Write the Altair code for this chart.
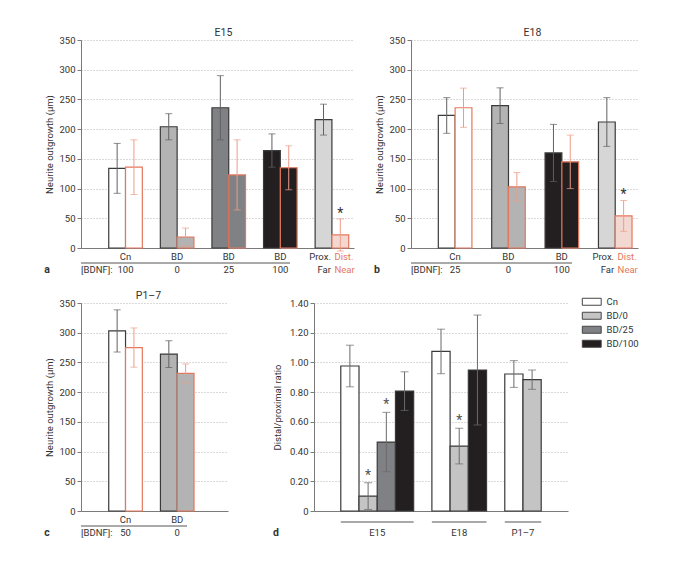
import altair as alt
import pandas as pd

# ---------------- data ----------------
# Panel a: E15
a_groups = ["Cn", "BD0", "BD25", "BD100", "ProxDist"]
a_row1 = ["Cn", "BD", "BD", "BD"]
a_row2 = ["100", "0", "25", "100"]
a_black_mean = [134, 204, 236, 164, 216]
a_black_err = [42, 22, 54, 28, 26]
a_red_mean = [136, 18.5, 123, 135, 22]
a_red_err = [46, 15, 59, 37, 27]

# Panel b: E18
b_groups = ["Cn", "BD0", "BD100", "ProxDist"]
b_row1 = ["Cn", "BD", "BD"]
b_row2 = ["25", "0", "100"]
b_black_mean = [223, 239.5, 160, 212]
b_black_err = [30, 30, 48, 41]
b_red_mean = [236, 103, 145, 54]
b_red_err = [33, 24, 45, 26]

# Panel c: P1-7
c_groups = ["Cn", "BD0"]
c_row1 = ["Cn", "BD"]
c_row2 = ["50", "0"]
c_black_mean = [303, 264]
c_black_err = [35.5, 22.5]
c_red_mean = [275, 231.5]
c_red_err = [33, 16]

pd_top = ["Prox.", "Dist."]
pd_bottom = ["Far", "Near"]

# Panel d: distal/proximal ratio
d_stage = ["E15", "E15", "E15", "E15", "E18", "E18", "E18", "P1–7", "P1–7"]
d_cond = ["Cn", "BD/0", "BD/25", "BD/100", "Cn", "BD/0", "BD/100", "Cn", "BD/0"]
d_mean = [0.976, 0.10, 0.464, 0.807, 1.074, 0.437, 0.949, 0.922, 0.884]
d_err = [0.14, 0.09, 0.20, 0.13, 0.15, 0.12, 0.37, 0.09, 0.065]
d_sig = [False, True, True, False, False, True, False, False, False]
d_stages = ["E15", "E18", "P1–7"]
conditions = ["Cn", "BD/0", "BD/25", "BD/100"]

# ---------------- style ----------------
FONT = "Roboto"
FS = 9.5
TXT = "#333333"
RED_TXT = "#e5775c"
BLACK_STROKE = "#3a3a3a"
RED_STROKE = "#e5775c"
BLACK_ERR = "#606060"
RED_ERR = "#ee9c88"
AXIS = "#7a7a7a"
GRID = "#b5b5b5"
KIND = {"Cn": "open", "BD0": "dotted", "BD25": "gray", "BD100": "solid", "ProxDist": "hatch"}
FILL_DOM = ["open", "dotted", "gray", "solid", "hatch", "hatch_red"]
FILL_RNG = ["#ffffff", "#b3b3b3", "#808184", "#231f20", "#d6d6d6", "#f2d8d0"]
H = 208


def y_axis(values, title, tpad, fmt_expr=None):
    kw = dict(values=values, title=title, tickSize=4, tickColor=AXIS, domainColor=AXIS,
              gridColor=GRID, gridDash=[1, 2], grid=True, labelPadding=2, titlePadding=tpad,
              labelOverlap=False)
    if fmt_expr:
        kw["labelExpr"] = fmt_expr
    return alt.Axis(**kw)


def bar_panel(groups, row1, row2, bm, be, rm, re_, width, pin, pout, palign,
              title, title_dx, letter, underline_end):
    rows = []
    for i, g in enumerate(groups):
        kind = KIND[g]
        rows.append(dict(g=g, s="black", m=bm[i], lo=bm[i] - be[i], hi=bm[i] + be[i], k=kind))
        rows.append(dict(g=g, s="red", m=rm[i], lo=rm[i] - re_[i], hi=rm[i] + re_[i],
                         k=kind + ("_red" if kind == "hatch" else "")))
    df = pd.DataFrame(rows)
    xs = alt.Scale(domain=groups, paddingInner=pin, paddingOuter=pout, align=palign)
    x = alt.X("g:N", scale=xs, axis=alt.Axis(labels=False, ticks=False, title=None,
                                            domainColor=AXIS, grid=False))
    xo = alt.XOffset("s:N", scale=alt.Scale(domain=["black", "red"], paddingInner=0, paddingOuter=0))
    ysc = alt.Scale(domain=[0, 350])
    ttl = "Neurite outgrowth (µm)"
    yax = y_axis(list(range(0, 351, 50)), ttl, 4)
    base = alt.Chart(df)
    bars = base.mark_bar(strokeWidth=1.2).encode(
        x=x, xOffset=xo,
        y=alt.Y("m:Q", scale=ysc, axis=yax, title=ttl),
        fill=alt.Fill("k:N", scale=alt.Scale(domain=FILL_DOM, range=FILL_RNG), legend=None),
        stroke=alt.condition("datum.s == 'red'", alt.value(RED_STROKE), alt.value(BLACK_STROKE)),
    )
    ecol = alt.condition("datum.s == 'red'", alt.value(RED_ERR), alt.value(BLACK_ERR))
    err = base.mark_rule(strokeWidth=1).encode(
        x=x, xOffset=xo, y=alt.Y("lo:Q", scale=ysc, axis=yax, title=ttl), y2="hi:Q", color=ecol)
    cap_hi = base.mark_tick(size=7, thickness=1, orient="horizontal").encode(
        x=x, xOffset=xo, y=alt.Y("hi:Q", scale=ysc, axis=yax, title=ttl), color=ecol)
    cap_lo = base.mark_tick(size=7, thickness=1, orient="horizontal").encode(
        x=x, xOffset=xo, y=alt.Y("lo:Q", scale=ysc, axis=yax, title=ttl), color=ecol)
    layers = [bars, err, cap_hi, cap_lo]

    glab = pd.DataFrame({"g": groups[:len(row1)], "t1": row1, "t2": row2})
    gchart = alt.Chart(glab)
    layers.append(gchart.mark_text(fontSize=FS, baseline="middle", color=TXT).encode(
        x=x, y=alt.value(H + 9), text="t1:N"))
    layers.append(gchart.mark_text(fontSize=FS, baseline="middle", color=TXT).encode(
        x=x, y=alt.value(H + 22), text="t2:N"))

    if "ProxDist" in groups:
        pdf = pd.DataFrame({"g": ["ProxDist", "ProxDist"], "s": ["black", "red"],
                            "t1": pd_top, "t2": pd_bottom})
        pch = alt.Chart(pdf)
        for ser, al, ddx, col in (("black", "right", -1, TXT), ("red", "left", 2.5, RED_TXT)):
            sub = pch.transform_filter("datum.s == '%s'" % ser)
            layers.append(sub.mark_text(fontSize=FS, baseline="middle", align=al, dx=ddx, color=col).encode(
                x=x, y=alt.value(H + 9), text="t1:N"))
            layers.append(sub.mark_text(fontSize=FS, baseline="middle", align=al, dx=ddx, color=col).encode(
                x=x, y=alt.value(H + 22), text="t2:N"))
        star = base.transform_filter("datum.g == 'ProxDist' && datum.s == 'red'").mark_text(
            text="*", fontSize=14, baseline="middle", dy=-5, color=TXT).encode(
            x=x, xOffset=xo, y=alt.Y("hi:Q", scale=ysc, axis=yax, title=ttl))
        layers.append(star)

    one = alt.Chart(pd.DataFrame({"t": [letter], "b": ["[BDNF]:"]}))
    layers.append(one.mark_text(fontSize=10.5, fontWeight="bold", baseline="middle", color=TXT).encode(
        x=alt.value(-34), y=alt.value(H + 22), text="t:N"))
    layers.append(one.mark_text(fontSize=FS, baseline="middle", align="left", color=TXT).encode(
        x=alt.value(0), y=alt.value(H + 22), text="b:N"))
    layers.append(one.mark_rule(color="#555555", strokeWidth=1).encode(
        x=alt.value(0), x2=alt.value(underline_end), y=alt.value(H + 15)))

    return alt.layer(*layers).properties(
        width=width, height=H,
        title=alt.TitleParams(title, fontSize=10.5, fontWeight="normal", font=FONT, color=TXT,
                              dx=title_dx, anchor="middle", frame="group", offset=-3))


panel_a = bar_panel(a_groups, a_row1, a_row2, a_black_mean, a_black_err, a_red_mean, a_red_err,
                    273, 0.349, 0.32, 0.84, "E15", 6, "a", 209)
panel_b = bar_panel(b_groups, b_row1, b_row2, b_black_mean, b_black_err, b_red_mean, b_red_err,
                    227, 0.375, 0.314, 0.815, "E18", 8, "b", 161)
panel_c = bar_panel(c_groups, c_row1, c_row2, c_black_mean, c_black_err, c_red_mean, c_red_err,
                    147, 0.349, 0.596, 0.45, "P1–7", -6, "c", 106)

# ---------------- panel d ----------------
slots = ["pad_l"]
for si, st in enumerate(d_stages):
    if si > 0:
        slots.append("gap%d" % si)
    for st2, cd in zip(d_stage, d_cond):
        if st2 == st:
            slots.append(st + "|" + cd)
slots.append("pad_r")
ddf = pd.DataFrame({
    "slot": [s + "|" + c for s, c in zip(d_stage, d_cond)],
    "cond": d_cond, "m": d_mean,
    "lo": [m - e for m, e in zip(d_mean, d_err)],
    "hi": [m + e for m, e in zip(d_mean, d_err)],
    "sig": d_sig,
})
dx = alt.X("slot:N", scale=alt.Scale(domain=slots, paddingInner=0, paddingOuter=0.47),
           axis=alt.Axis(labels=False, ticks=False, title=None, domainColor=AXIS, grid=False))
dys = alt.Scale(domain=[0, 1.4])
dttl = "Distal/proximal ratio"
dyax = y_axis([0, 0.2, 0.4, 0.6, 0.8, 1.0, 1.2, 1.4], dttl, 7,
              "datum.value == 0 ? '0' : format(datum.value, '.2f')")
dbase = alt.Chart(ddf)
d_bars = dbase.mark_bar(strokeWidth=1.2, stroke=BLACK_STROKE).encode(
    x=dx, y=alt.Y("m:Q", scale=dys, axis=dyax, title=dttl),
    fill=alt.Fill("cond:N", scale=alt.Scale(domain=conditions, range=["#ffffff", "#c4c4c4", "#808184", "#231f20"]),
                  legend=alt.Legend(orient="none", legendX=273, legendY=-6, title=None,
                                    symbolType="M-2.7,-1H2.7V1H-2.7Z", symbolSize=49,
                                    symbolStrokeColor="#444444", symbolStrokeWidth=1,
                                    labelFontSize=FS, labelFont=FONT, labelColor=TXT,
                                    rowPadding=2, labelOffset=10)),
)
ecd = "#6a6a6a"
d_err = dbase.mark_rule(strokeWidth=1, color=ecd).encode(
    x=dx, y=alt.Y("lo:Q", scale=dys, axis=dyax, title=dttl), y2="hi:Q")
d_cap_hi = dbase.mark_tick(size=8, thickness=1, orient="horizontal", color=ecd).encode(
    x=dx, y=alt.Y("hi:Q", scale=dys, axis=dyax, title=dttl))
d_cap_lo = dbase.mark_tick(size=8, thickness=1, orient="horizontal", color=ecd).encode(
    x=dx, y=alt.Y("lo:Q", scale=dys, axis=dyax, title=dttl))
d_star = dbase.transform_filter("datum.sig").mark_text(
    text="*", fontSize=14, baseline="middle", dy=-7, color="#555555").encode(
    x=dx, y=alt.Y("hi:Q", scale=dys, axis=dyax, title=dttl))

# stage labels + underlines
first_slot, last_slot, mid_even, mid_odd = [], [], [], []
for st in d_stages:
    members = [s for s in slots if s.startswith(st + "|")]
    first_slot.append(members[0])
    last_slot.append(members[-1])
    n = len(members)
    if n % 2 == 0:
        mid_even.append((st, members[n // 2]))
    else:
        mid_odd.append((st, members[n // 2]))
ul = alt.Chart(pd.DataFrame({"a": first_slot, "b": last_slot})).mark_rule(color="#555555").encode(
    x=alt.X("a:N", bandPosition=0), x2=alt.X2("b:N", bandPosition=1), y=alt.value(H + 11))
lab_even = alt.Chart(pd.DataFrame({"t": [m[0] for m in mid_even], "slot": [m[1] for m in mid_even]})).mark_text(
    fontSize=FS, baseline="middle", color=TXT).encode(
    x=alt.X("slot:N", bandPosition=0), y=alt.value(H + 22), text="t:N")
lab_odd = alt.Chart(pd.DataFrame({"t": [m[0] for m in mid_odd], "slot": [m[1] for m in mid_odd]})).mark_text(
    fontSize=FS, baseline="middle", color=TXT).encode(
    x=alt.X("slot:N", bandPosition=0.5), y=alt.value(H + 22), text="t:N")
d_letter = alt.Chart(pd.DataFrame({"t": ["d"]})).mark_text(
    fontSize=10.5, fontWeight="bold", baseline="middle", color=TXT).encode(
    x=alt.value(-38), y=alt.value(H + 22), text="t:N")

panel_d = alt.layer(d_bars, d_err, d_cap_hi, d_cap_lo, d_star, ul, lab_even, lab_odd, d_letter).properties(
    width=254, height=H)

top = alt.hconcat(panel_a, panel_b, spacing=57, bounds="flush").resolve_scale(fill="independent").resolve_legend(fill="independent")
bottom = alt.hconcat(panel_c, panel_d, spacing=86, bounds="flush").resolve_scale(fill="independent").resolve_legend(fill="independent")
chart = alt.vconcat(top, bottom, spacing=14).resolve_scale(fill="independent").resolve_legend(fill="independent").properties(
    padding={"left": 35, "top": 19, "right": 5, "bottom": 5}, background="white"
).configure_view(stroke="transparent").configure_axis(
    labelFont=FONT, titleFont=FONT, labelFontSize=FS, titleFontSize=FS,
    titleFontWeight="normal", labelColor=TXT, titleColor=TXT
).configure_text(font=FONT)

chart.save("out.html", embed_options={"renderer": "svg", "actions": False})
